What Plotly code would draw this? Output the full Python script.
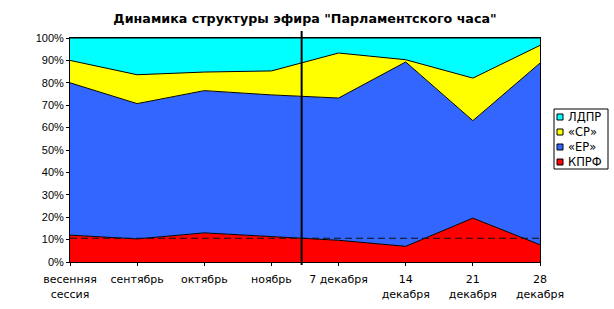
import plotly.graph_objects as go

categories = ["весенняя<br>сессия", "сентябрь", "октябрь", "ноябрь", "7 декабря",
              "14<br>декабря", "21<br>декабря", "28<br>декабря"]
kprf = [12.0, 10.3, 13.0, 11.2, 9.7, 7.0, 19.6, 7.7]
er = [68.0, 60.4, 63.5, 63.4, 63.5, 82.3, 43.5, 81.1]
sr = [10.0, 12.9, 8.3, 10.7, 20.1, 1.0, 19.0, 7.9]
ldpr = [10.0, 16.4, 15.2, 14.7, 6.7, 9.7, 17.9, 3.3]
avg_level = 10.6
divider_pos = 3.45

x = list(range(len(categories)))
font = "Liberation Sans, Arial, sans-serif"
wide = "DejaVu Sans, sans-serif"

W, H = 614, 309
L, R, T, B = 70, 74, 38, 47
PW, PH = W - L - R, H - T - B


def px_x(p):
    return (p - L) / PW


def px_y(p):
    return (H - B - p) / PH


fig = go.Figure()
series = [("КПРФ", kprf, "#FF0000"), ("«ЕР»", er, "#3366FF"),
          ("«СР»", sr, "#FFFF00"), ("ЛДПР", ldpr, "#00FFFF")]
for name, vals, col in series:
    fig.add_trace(go.Scatter(x=x, y=vals, name=name, stackgroup="one", mode="lines",
                             line=dict(color="black", width=1), fillcolor=col,
                             hoverinfo="skip", showlegend=False))

fig.add_trace(go.Scatter(x=[x[0], x[-1]], y=[avg_level, avg_level], mode="lines",
                         line=dict(color="#111111", width=1, dash="7px,4px"),
                         showlegend=False, hoverinfo="skip"))

fig.add_shape(type="line", xref="x", yref="paper", x0=divider_pos, x1=divider_pos,
              y0=px_y(265), y1=px_y(31), line=dict(color="black", width=2))

# legend box (drawn manually to match compact Excel-style legend)
fig.add_shape(type="rect", xref="paper", yref="paper",
              x0=px_x(554), x1=px_x(608), y0=px_y(169), y1=px_y(109),
              line=dict(color="black", width=1), fillcolor="white", layer="above")
legend_rows = [117, 132, 147, 162]
for (name, _, col), cy in zip(reversed(series), legend_rows):
    fig.add_shape(type="rect", xref="paper", yref="paper",
                  x0=px_x(557), x1=px_x(563), y0=px_y(cy + 3), y1=px_y(cy - 3),
                  line=dict(color="black", width=1), fillcolor=col, layer="above")
    fig.add_annotation(text=name, xref="paper", yref="paper", x=px_x(566), y=px_y(cy),
                       xanchor="left", yanchor="middle", showarrow=False,
                       font=dict(family=wide, size=11.5, color="black"))

fig.update_layout(
    width=W, height=H,
    margin=dict(l=L, r=R, t=T, b=B, autoexpand=False),
    paper_bgcolor="white", plot_bgcolor="white",
    font=dict(family=font, size=11, color="black"),
    title=dict(text="<b>Динамика структуры эфира \"Парламентского часа\"</b>",
               x=0.5, xref="paper", xanchor="center", y=1 - 19 / H, yanchor="middle",
               font=dict(family=wide, size=12.7, color="black")),
    showlegend=False,
    xaxis=dict(range=[0, 7], tickmode="array", tickvals=x, ticktext=categories,
               showgrid=False, zeroline=False, showline=True, linecolor="black",
               linewidth=1, mirror=True, ticks="outside", ticklen=3,
               tickcolor="black", tickangle=0, ticklabelstandoff=4,
               tickfont=dict(family=wide, size=11)),
    yaxis=dict(range=[0, 100], tickvals=list(range(0, 101, 10)),
               ticktext=[f"{v}%" for v in range(0, 101, 10)],
               showgrid=False, zeroline=False, showline=True, linecolor="black",
               linewidth=1, mirror=True, ticks="outside", ticklen=3,
               tickcolor="black", tickfont=dict(family=font, size=11)),
)

fig.write_html("out.html")
